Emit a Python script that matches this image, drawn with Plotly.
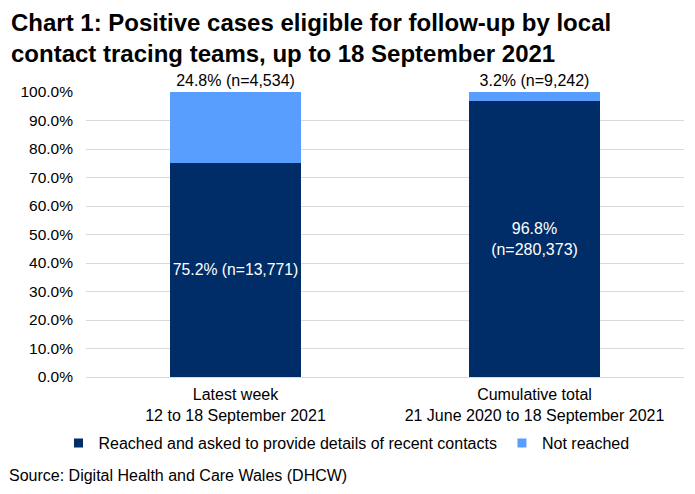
import plotly.graph_objects as go

categories = ["Latest week<br>12 to 18 September 2021",
              "Cumulative total<br>21 June 2020 to 18 September 2021"]
reached = [0.752, 0.968]
not_reached = [0.248, 0.032]
reached_labels = ["75.2% (n=13,771)", "96.8%<br>(n=280,373)"]
not_reached_labels = ["24.8% (n=4,534)", "3.2% (n=9,242)"]
series_names = ["Reached and asked to provide details of recent contacts", "Not reached"]

FONT = "Liberation Sans, Arial, sans-serif"
DARK = "#002D67"
LIGHT = "#589EFF"

fig = go.Figure()
fig.add_trace(go.Bar(
    x=categories, y=reached, name=series_names[0], showlegend=False,
    marker=dict(color=DARK, line=dict(width=0)),
    text=reached_labels, textposition="inside", insidetextanchor="middle",
    textfont=dict(color="white", size=16, family=FONT), textangle=0,
    hoverinfo="skip",
))
fig.add_trace(go.Bar(
    x=categories, y=not_reached, name=series_names[1], showlegend=False,
    marker=dict(color=LIGHT, line=dict(width=0)),
    text=not_reached_labels, textposition="outside",
    textfont=dict(color="#000000", size=16, family=FONT), textangle=0,
    cliponaxis=False, hoverinfo="skip",
))
# legend-only entries with small square swatches
for nm, col in zip(series_names, [DARK, LIGHT]):
    fig.add_trace(go.Scatter(
        x=[None], y=[None], mode="markers", name=nm,
        marker=dict(symbol="square", size=9, color=col), hoverinfo="skip",
    ))

fig.update_layout(
    width=695, height=494,
    barmode="stack", bargap=0.56,
    paper_bgcolor="white", plot_bgcolor="white",
    font=dict(family=FONT, size=16, color="#000000"),
    margin=dict(l=78, r=19, t=84, b=125, autoexpand=False),
    uniformtext=dict(mode=False),
    showlegend=True,
    legend=dict(orientation="h", x=0.4356, xanchor="center",
                yref="container", y=0.119, yanchor="middle",
                font=dict(size=16, family=FONT), traceorder="normal",
                itemwidth=30, tracegroupgap=0),
    annotations=[
        dict(text="<b>Chart 1: Positive cases eligible for follow-up by local<br>contact tracing teams, up to 18 September 2021</b>",
             xref="paper", yref="paper", x=-0.129, y=1.1895, xanchor="left", yanchor="middle",
             align="left", showarrow=False,
             font=dict(size=24, family=FONT, color="#000000")),
        dict(text="Source: Digital Health and Care Wales (DHCW)",
             xref="paper", yref="paper", x=-0.132, y=-0.344, xanchor="left", yanchor="middle",
             showarrow=False, font=dict(size=16, family=FONT, color="#000000")),
    ],
)
fig.update_yaxes(range=[0, 1], dtick=0.1, tickformat=".1%", showgrid=True,
                 gridcolor="#D9D9D9", gridwidth=1, zeroline=False,
                 showline=False, ticks="", ticklen=0, ticklabelstandoff=12,
                 tickfont=dict(size=15.5, family=FONT))
fig.update_xaxes(showline=True, linecolor="#D9D9D9", linewidth=1, ticks="",
                 ticklabelstandoff=3,
                 tickfont=dict(size=16, family=FONT))

fig.write_html("out.html")
